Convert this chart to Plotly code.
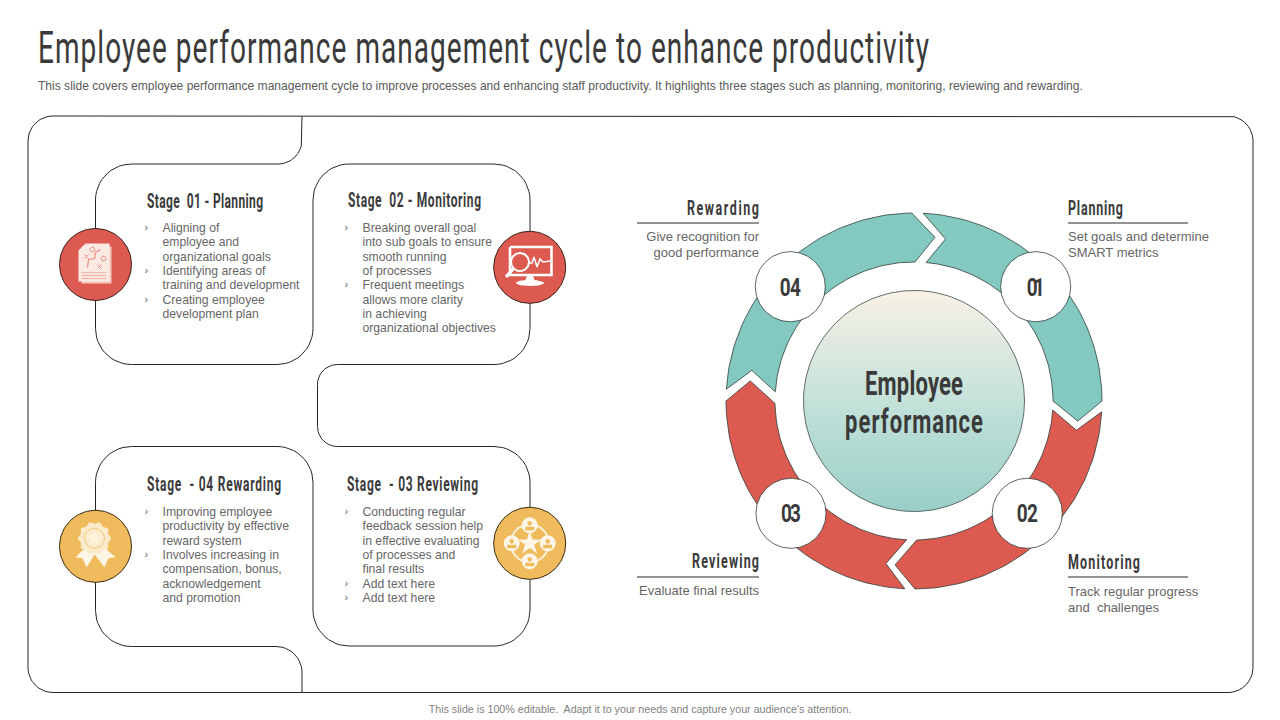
import json

import numpy as np
import plotly.graph_objects as go

# Texts ----------------------------------------------------------------
TITLE = 'Employee performance management cycle to enhance productivity'
SUBTITLE = ('This slide covers employee performance management cycle to improve processes and enhancing staff '
            'productivity. It highlights three stages such as planning, monitoring, reviewing and rewarding.')
FOOTER = "This slide is 100% editable.  Adapt it to your needs and capture your audience's attention."
CENTER_LINES = ['Employee', 'performance']
STEP_NUMBERS = ['01', '02', '03', '04']

STAGE_TITLES = ['Stage  01 - Planning', 'Stage  02 - Monitoring', 'Stage  - 03 Reviewing', 'Stage  - 04 Rewarding']
STAGE_LINES = [
    ['Aligning of', 'employee and', 'organizational goals', 'Identifying areas of',
     'training and development', 'Creating employee', 'development plan'],
    ['Breaking overall goal', 'into sub goals to ensure', 'smooth running', 'of processes',
     'Frequent meetings', 'allows more clarity', 'in achieving', 'organizational objectives'],
    ['Conducting regular', 'feedback session help', 'in effective evaluating', 'of processes and',
     'final results', 'Add text here', 'Add text here'],
    ['Improving employee', 'productivity by effective', 'reward system', 'Involves increasing in',
     'compensation, bonus,', 'acknowledgement', 'and promotion'],
]
STAGE_BULLETS = [[0, 3, 5], [0, 4], [0, 5, 6], [0, 3]]

LABEL_TITLES = ['Planning', 'Monitoring', 'Reviewing', 'Rewarding']
LABEL_LINES = [
    ['Set goals and determine', 'SMART metrics'],
    ['Track regular progress', 'and  challenges'],
    ['Evaluate final results'],
    ['Give recognition for', 'good performance'],
]

# Layout constants -----------------------------------------------------
RED = '#DC5A4F'
TEAL = '#84C9BF'
YELLOW = '#EFBB5C'
LINE = '#262626'
DARK = '#3A3A3A'
GREY = '#666666'
HEAD_FONT = 'Roboto'
BODY_FONT = 'Liberation Sans'

CX, CY = 914, 401
R_OUT, R_IN, R_TIP = 188, 139, 165
# angles clockwise from 12 o'clock: tail outer, head outer, tip, head inner, tail inner, notch
ARROWS = [
    (2.8, 90.0, 97.0, 90.0, 5.0, 11.0, TEAL),
    (93.3, 179.7, 186.6, 178.9, 93.7, 100.2, RED),
    (182.8, 270.0, 277.0, 269.0, 183.0, 189.8, RED),
    (273.6, 359.3, 367.3, 360.4, 273.8, 280.7, TEAL),
]
STEP_CENTERS = [(1035.7, 286.7), (1027.3, 513.3), (791, 513.3), (790.3, 286.7)]
STAGE_TITLE_POS = [(147, 202), (348, 201), (347, 485), (147, 485)]
STAGE_TEXT_POS = [(162.5, 229), (362.5, 229), (362.5, 513), (162.5, 513)]
LABEL_POS = [(1068, 209, 'left'), (1068, 563, 'left'), (759, 562, 'right'), (759, 209, 'right')]
LABEL_RULE = [(1068, 1188, 223), (1068, 1188, 577), (637, 759, 577), (637, 759, 223)]
LABEL_TEXT_Y = [238, 593, 592, 238]

# no condensed font is installed: headings are set small, then stretched to
# the reference height and tracked out to the reference width
# text: (drawn width in pixels, vertical stretch)
HEADINGS = {
    TITLE: (891, 1.61),
    STAGE_TITLES[0]: (116, 1.76), STAGE_TITLES[1]: (133, 1.76), STAGE_TITLES[2]: (131, 1.76), STAGE_TITLES[3]: (134, 1.76),
    LABEL_TITLES[0]: (55, 1.58), LABEL_TITLES[1]: (72, 1.58), LABEL_TITLES[2]: (67, 1.58), LABEL_TITLES[3]: (72, 1.58),
    CENTER_LINES[0]: (98, 1.47), CENTER_LINES[1]: (138, 1.47),
    STEP_NUMBERS[0]: (18, 1.33), STEP_NUMBERS[1]: (21, 1.33), STEP_NUMBERS[2]: (20, 1.33), STEP_NUMBERS[3]: (21, 1.33),
}

# corners of the outline that runs through the four stage cards: x, y, radius
PATH = [
    (302, 116, 0), (302, 164, 24), (95.5, 164, 36), (95.5, 364.5, 36), (313, 364.5, 36),
    (313, 164, 36), (530, 164, 36), (530, 364.5, 36), (317.5, 364.5, 20), (317.5, 446.5, 20),
    (530, 446.5, 36), (530, 646, 36), (313, 646, 36), (313, 446.5, 36), (95.5, 446.5, 36),
    (95.5, 646.5, 36), (302, 646.5, 26), (302, 692.5, 0),
]
FRAME = [(53, 116, 0), (1253, 116, 25), (1253, 692.5, 25), (28, 692.5, 25), (28, 116, 25), (53, 116, 0)]


def rounded(points):
	"""Polyline through axis aligned corners, each one rounded with its own radius."""
	xs, ys = [], []
	for i, (x, y, r) in enumerate(points):
		if r == 0:
			xs.append(x)
			ys.append(y)
			continue
		p = np.array(points[i - 1][:2], dtype=float)
		q = np.array(points[i + 1][:2], dtype=float)
		v = np.array([x, y], dtype=float)
		d1 = (v - p) / np.linalg.norm(v - p)
		d2 = (q - v) / np.linalg.norm(q - v)
		c = v - d1 * r + d2 * r
		for t in np.linspace(0, np.pi / 2, 14):
			pt = c + r * (np.cos(t) * -d2 + np.sin(t) * d1)
			xs.append(pt[0])
			ys.append(pt[1])
	return xs, ys


def polar(angle, r):
	a = np.radians(angle)
	return CX + r * np.sin(a), CY - r * np.cos(a)


def arrow(tail_out, head_out, tip, head_in, tail_in, notch):
	a_out = np.linspace(tail_out, head_out, 60)
	a_in = np.linspace(head_in, tail_in, 60)
	xo, yo = polar(a_out, R_OUT)
	xi, yi = polar(a_in, R_IN)
	xt, yt = polar(tip, R_TIP)
	xn, yn = polar(notch, R_TIP)
	return list(xo) + [xt] + list(xi) + [xn, xo[0]], list(yo) + [yt] + list(yi) + [yn, yo[0]]


def circle_xy(x, y, r, n=120):
	t = np.linspace(0, 2 * np.pi, n)
	return x + r * np.cos(t), y + r * np.sin(t)


fig = go.Figure()


def poly(xs, ys, fill=None, line=None, width=1):
	fig.add_trace(go.Scatter(
		x=list(xs), y=list(ys), mode='lines',
		fill='toself' if fill else 'none', fillcolor=fill,
		line=dict(color=line if line else 'rgba(0,0,0,0)', width=width if line else 0),
		hoverinfo='skip', showlegend=False,
	))


def circle(x, y, r, fill=None, line=None, width=1):
	poly(*circle_xy(x, y, r), fill=fill, line=line, width=width)


def stroke(pts, color, width=1):
	poly([p[0] for p in pts], [p[1] for p in pts], line=color, width=width)


def label(x, y, text, size, color=GREY, font=BODY_FONT, anchor='left', weight='normal'):
	position = {'left': 'middle right', 'right': 'middle left', 'center': 'middle center'}[anchor]
	fig.add_trace(go.Scatter(
		x=[x], y=[y], mode='text', text=[text], textposition=position, cliponaxis=False,
		textfont=dict(family=font, size=size, color=color, weight=weight),
		hoverinfo='skip', showlegend=False,
	))


def star(x, y, size, color):
	fig.add_trace(go.Scatter(
		x=[x], y=[y], mode='markers', hoverinfo='skip', showlegend=False,
		marker=dict(symbol='star', size=size, color=color, line=dict(width=0)),
	))


# Outlines -------------------------------------------------------------
poly(*rounded(FRAME), line=LINE, width=1)
poly(*rounded(PATH), line=LINE, width=1)

# Ring -----------------------------------------------------------------
for tail_out, head_out, tip, head_in, tail_in, notch, color in ARROWS:
	poly(*arrow(tail_out, head_out, tip, head_in, tail_in, notch), fill=color, line='#2E3F3C', width=0.8)

xs, ys = circle_xy(CX, CY, 110.5, 180)
fig.add_trace(go.Scatter(
	x=xs, y=ys, mode='lines', fill='toself', hoverinfo='skip', showlegend=False,
	line=dict(color='#3C4A47', width=0.8),
	fillgradient=dict(type='vertical', colorscale=[[0, '#99CFC7'], [0.45, '#BFE0D8'], [1, '#F9F1E6']]),
))
for (x, y), num in zip(STEP_CENTERS, STEP_NUMBERS):
	circle(x, y, 35, fill='white', line='#2E3F3C', width=0.8)
	label(x, y + 2, num, 19, color=DARK, font=HEAD_FONT, anchor='center', weight='bold')
for i, text in enumerate(CENTER_LINES):
	label(CX, 386 + i * 37.5, text, 22, color=DARK, font=HEAD_FONT, anchor='center', weight='bold')

# Stage cards ----------------------------------------------------------
for i in range(4):
	label(*STAGE_TITLE_POS[i], STAGE_TITLES[i], 12, color=DARK, font=HEAD_FONT, weight='bold')
	x0, y0 = STAGE_TEXT_POS[i]
	for j, text in enumerate(STAGE_LINES[i]):
		y = y0 + j * 14.3
		label(x0, y, text, 12.2, color=GREY)
		if j in STAGE_BULLETS[i]:
			label(x0 - 18, y - 0.5, '›', 11, color=GREY)

# Right hand labels ----------------------------------------------------
for i in range(4):
	x, y, anchor = LABEL_POS[i]
	label(x, y, LABEL_TITLES[i], 12.5, color=DARK, font=HEAD_FONT, anchor=anchor, weight='bold')
	x0, x1, ry = LABEL_RULE[i]
	stroke([(x0, ry), (x1, ry)], LINE, 1)
	for j, text in enumerate(LABEL_LINES[i]):
		label(x, LABEL_TEXT_Y[i] + j * 16, text, 13, color=GREY, anchor=anchor)

# Icon: planning document ----------------------------------------------
ix, iy = 95.5, 264.5
circle(ix, iy, 36, fill=RED, line='#3A1E1B', width=1)
poly([ix - 14, ix + 16, ix + 16, ix - 14], [iy - 18, iy - 18, iy + 19, iy + 19], fill='#F3C9C1')
poly([ix - 17, ix - 10, ix + 14, ix + 14, ix - 17, ix - 17],
     [iy - 14, iy - 21, iy - 21, iy + 17, iy + 17, iy - 14], fill='#FBEAE4')
for dy in (8, 11, 14):
	stroke([(ix - 14, iy + dy), (ix + 11, iy + dy)], '#EFB4AA', 1.2)
stroke([(ix - 8, iy + 3), (ix - 7, iy - 5), (ix - 1, iy - 6), (ix, iy - 12), (ix + 5, iy - 15)], '#E58D81', 1.2)
circle(ix - 3, iy - 15, 2.5, line='#E58D81', width=1)
circle(ix + 8, iy - 6, 2.5, line='#E58D81', width=1)
for mx, my in [(ix - 9, iy - 8), (ix + 4, iy + 2)]:
	stroke([(mx - 2, my - 2), (mx + 2, my + 2)], '#E58D81', 1)
	stroke([(mx - 2, my + 2), (mx + 2, my - 2)], '#E58D81', 1)

# Icon: monitor --------------------------------------------------------
ix, iy = 529.7, 267.3
circle(ix, iy, 36, fill=RED, line='#3A1E1B', width=1)
stroke([(510, 247), (551.5, 247), (551.5, 275), (510, 275), (510, 247)], 'white', 2.6)
poly([527, 533, 535, 525], [276, 276, 281, 281], fill='white')
xs, ys = circle_xy(530, 0, 14)
poly(xs, 283 + (ys * 0.22), fill='white')
stroke([(526, 263), (532, 263), (534, 257), (537, 267), (540, 259), (543, 262), (550, 261)], 'white', 1.6)
circle(520, 262, 9, fill=RED, line='white', width=2)
stroke([(513.5, 268.5), (506, 277)], 'white', 3.4)

# Icon: reviewing ------------------------------------------------------
ix, iy = 529.7, 543.3
circle(ix, iy, 36, fill=YELLOW, line='#3A2A10', width=1)
circle(ix, iy, 19, line='#FDF0D8', width=2)
star(ix, iy, 18, '#FDF6E8')
for dx, dy in [(0, -18), (18, 0), (0, 18), (-18, 0)]:
	px_, py_ = ix + dx, iy + dy
	circle(px_, py_, 8, fill='#FDF6E8')
	circle(px_, py_ - 2, 2.4, fill=YELLOW)
	poly([px_ - 4.5, px_ + 4.5, px_ + 4.5, px_ - 4.5], [py_ + 5, py_ + 5, py_ + 1.5, py_ + 1.5], fill=YELLOW)

# Icon: rewarding ------------------------------------------------------
ix, iy = 95.5, 546.3
circle(ix, iy, 36, fill=YELLOW, line='#3A2A10', width=1)
poly([ix - 7, ix - 20, ix - 13, ix - 9, ix + 2], [iy - 2, iy + 11, iy + 12, iy + 21, iy + 4], fill='#FEF7E8')
poly([ix + 5, ix + 20, ix + 13, ix + 9, ix - 4], [iy - 2, iy + 11, iy + 12, iy + 21, iy + 4], fill='#FEF7E8')
t = np.linspace(0, 2 * np.pi, 97)
rr = 15.5 + 1.2 * np.cos(10 * t)
poly(ix - 1 + rr * np.cos(t), iy - 8 + rr * np.sin(t), fill='#FBEBCB')
circle(ix - 1, iy - 8, 10, line='#EFC77E', width=1)
star(ix - 1, iy - 8, 13, '#FDF3DD')

# Title block and footer -----------------------------------------------
label(38, 50, TITLE, 28, color=DARK, font=HEAD_FONT)
label(38, 87, SUBTITLE, 12.05, color='#595959')
label(640, 710, FOOTER, 10.7, color='#7F7F7F', anchor='center')

fig.update_layout(
	width=1280, height=720, margin=dict(l=0, r=0, t=0, b=0),
	paper_bgcolor='white', plot_bgcolor='white', showlegend=False,
	xaxis=dict(range=[0, 1280], visible=False, fixedrange=True),
	yaxis=dict(range=[720, 0], visible=False, fixedrange=True),
)

fit_headings = """
document.body.style.margin = '0';
const headings = %s;
const fit = () => document.querySelectorAll('.textpoint text').forEach(el => {
	const h = headings[el.textContent];
	if (!h || el.dataset.fitted) return;
	el.dataset.fitted = '1';
	el.setAttribute('textLength', h[0]);
	el.setAttribute('lengthAdjust', 'spacing');
	const box = el.getBBox();
	const cy = box.y + box.height / 2;
	const base = el.getAttribute('transform') || '';
	el.setAttribute('transform', `${base} translate(0,${cy}) scale(1,${h[1]}) translate(0,${-cy})`);
});
fit();
setTimeout(fit, 200);
""" % json.dumps(HEADINGS)
fig.write_html('out.html', post_script=fit_headings, config={'displayModeBar': False})
